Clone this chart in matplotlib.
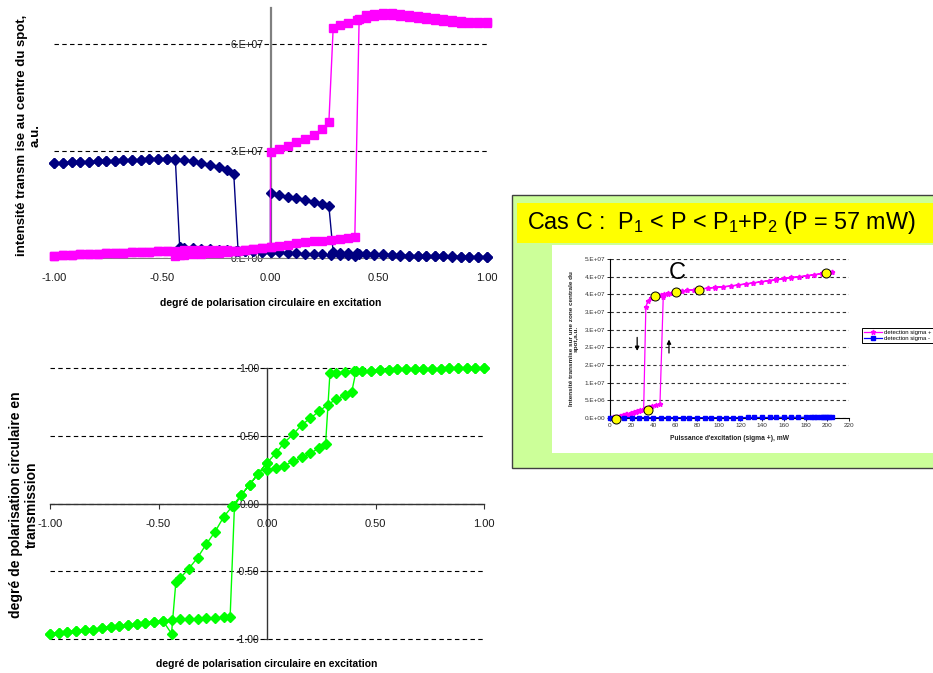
import matplotlib
matplotlib.use('Agg')
import matplotlib.pyplot as plt
from matplotlib.patches import Rectangle

plt.rcParams['font.family'] = ['Liberation Sans', 'DejaVu Sans']
plt.rcParams['mathtext.fontset'] = 'custom'
plt.rcParams['mathtext.rm'] = 'Liberation Sans'
plt.rcParams['mathtext.it'] = 'Liberation Sans:italic'
plt.rcParams['mathtext.bf'] = 'Liberation Sans:bold'

# ---------------- data : left charts (sweep of excitation polarisation) -------------
x_fwd = [-1.00, -0.96, -0.92, -0.88, -0.84, -0.80, -0.76, -0.72, -0.68, -0.64, -0.60,
         -0.56, -0.52, -0.48, -0.44, -0.40, -0.36, -0.32, -0.28, -0.24, -0.20, -0.17,
         -0.15, -0.12, -0.08, -0.04, 0.00, 0.00, 0.04, 0.08, 0.12, 0.16, 0.20, 0.24,
         0.27, 0.29, 0.32, 0.36, 0.40, 0.44, 0.48, 0.52, 0.56, 0.60, 0.64, 0.68, 0.72,
         0.76, 0.80, 0.84, 0.88, 0.92, 0.96, 1.00]
x_bwd = [1.00, 0.96, 0.92, 0.88, 0.84, 0.80, 0.76, 0.72, 0.68, 0.64, 0.60, 0.56, 0.52,
         0.48, 0.44, 0.41, 0.39, 0.36, 0.32, 0.28, 0.24, 0.20, 0.16, 0.12, 0.08, 0.04,
         0.00, -0.04, -0.08, -0.12, -0.16, -0.20, -0.24, -0.28, -0.32, -0.36, -0.40,
         -0.42, -0.44, -0.48, -0.52, -0.56, -0.60, -0.64, -0.68, -0.72, -0.76, -0.80,
         -0.84, -0.88, -0.92, -0.96, -1.00]

# intensity (units of 1e7) detected sigma- (navy) and sigma+ (magenta)
navy_fwd = [2.66, 2.66, 2.67, 2.68, 2.69, 2.70, 2.71, 2.72, 2.73, 2.74, 2.75, 2.76, 2.77,
            2.77, 2.76, 2.74, 2.71, 2.66, 2.60, 2.53, 2.45, 2.36, 0.20, 0.19, 0.18, 0.17,
            0.17, 1.80, 1.76, 1.71, 1.66, 1.61, 1.56, 1.50, 1.45, 0.15, 0.14, 0.13, 0.12,
            0.11, 0.10, 0.09, 0.08, 0.07, 0.06, 0.06, 0.05, 0.05, 0.04, 0.04, 0.03, 0.03,
            0.03, 0.03]
navy_bwd = [0.02, 0.02, 0.03, 0.03, 0.03, 0.04, 0.04, 0.05, 0.05, 0.06, 0.06, 0.07, 0.08,
            0.08, 0.09, 0.09, 0.06, 0.07, 0.08, 0.08, 0.09, 0.10, 0.11, 0.12, 0.13, 0.15,
            0.16, 0.17, 0.18, 0.19, 0.20, 0.21, 0.22, 0.23, 0.24, 0.26, 0.28, 0.30, 2.74,
            2.77, 2.77, 2.76, 2.75, 2.74, 2.73, 2.72, 2.71, 2.70, 2.69, 2.68, 2.67, 2.66,
            2.66]
pink_fwd = [0.06, 0.07, 0.08, 0.09, 0.10, 0.11, 0.12, 0.13, 0.14, 0.15, 0.16, 0.17, 0.18,
            0.19, 0.20, 0.21, 0.22, 0.22, 0.22, 0.21, 0.21, 0.20, 0.20, 0.22, 0.25, 0.28,
            0.31, 2.97, 3.05, 3.14, 3.23, 3.33, 3.45, 3.60, 3.80, 6.45, 6.52, 6.58, 6.65,
            6.72, 6.78, 6.80, 6.80, 6.78, 6.75, 6.72, 6.70, 6.67, 6.63, 6.60, 6.58, 6.57,
            6.57, 6.57]
pink_bwd = [6.60, 6.61, 6.62, 6.64, 6.66, 6.69, 6.72, 6.75, 6.78, 6.80, 6.83, 6.85, 6.86,
            6.84, 6.80, 6.70, 0.57, 0.55, 0.52, 0.50, 0.48, 0.46, 0.43, 0.40, 0.37, 0.34,
            0.31, 0.28, 0.25, 0.22, 0.19, 0.16, 0.14, 0.12, 0.10, 0.09, 0.08, 0.07, 0.04,
            0.19, 0.18, 0.17, 0.16, 0.15, 0.14, 0.13, 0.12, 0.11, 0.10, 0.09, 0.08, 0.07,
            0.06]
# degree of circular polarisation in transmission
pol_fwd = [-0.96, -0.955, -0.95, -0.94, -0.935, -0.93, -0.92, -0.91, -0.905, -0.90, -0.89,
           -0.88, -0.875, -0.865, -0.86, -0.855, -0.85, -0.85, -0.845, -0.845, -0.84, -0.84,
           -0.02, 0.06, 0.14, 0.22, 0.30, 0.25, 0.26, 0.28, 0.31, 0.34, 0.37, 0.41, 0.44,
           0.96, 0.965, 0.97, 0.975, 0.98, 0.98, 0.985, 0.985, 0.99, 0.99, 0.99, 0.995,
           0.995, 0.995, 1.00, 1.00, 1.00, 1.00, 1.00]
pol_bwd = [1.00, 1.00, 1.00, 1.00, 1.00, 0.995, 0.995, 0.995, 0.99, 0.99, 0.99, 0.985,
           0.985, 0.98, 0.98, 0.975, 0.82, 0.80, 0.77, 0.73, 0.68, 0.63, 0.58, 0.51, 0.45,
           0.37, 0.30, 0.22, 0.14, 0.06, -0.02, -0.10, -0.21, -0.30, -0.40, -0.48, -0.55,
           -0.58, -0.96, -0.865, -0.875, -0.88, -0.89, -0.90, -0.905, -0.91, -0.92, -0.93,
           -0.935, -0.94, -0.95, -0.955, -0.96]

top_yticks = [0, 3e7, 6e7]
top_yticklabels = ['0.E+00', '3.E+07', '6.E+07']
x_ticks = [-1.0, -0.5, 0.0, 0.5, 1.0]
x_ticklabels = ['-1.00', '-0.50', '0.00', '0.50', '1.00']
bot_yticks = [-1.0, -0.5, 0.0, 0.5, 1.0]
bot_yticklabels = ['-1.00', '-0.50', '0.00', '0.50', '1.00']

# ---------------- data : inset (power sweep, case C) ----------------
pink_up_x = [3, 6, 9, 12, 15, 18, 21, 24, 27, 30, 33, 36, 39, 42, 46, 49, 53, 57, 61, 66,
             71, 77, 83, 90, 97, 104, 111, 118, 125, 132, 139, 146, 153, 160, 167, 174,
             181, 188, 195, 200, 204]
pink_up_y = [0.2, 0.4, 0.6, 0.8, 1.0, 1.2, 1.5, 1.8, 2.1, 2.4, 2.7, 3.0, 3.3, 3.6, 4.0,
             34.2, 35.0, 35.4, 35.7, 35.9, 36.1, 36.3, 36.5, 36.7, 36.9, 37.1, 37.3, 37.6,
             37.9, 38.2, 38.5, 38.8, 39.1, 39.4, 39.7, 39.9, 40.2, 40.5, 40.8, 41.0, 41.3]
pink_down_x = [204, 200, 195, 188, 181, 174, 167, 160, 153, 146, 139, 132, 125, 118, 111,
               104, 97, 90, 83, 77, 71, 66, 61, 57, 53, 50, 47, 44, 41, 38, 35, 33, 31, 28,
               25, 22, 19, 16, 13, 10, 7, 4, 1]
pink_down_y = [41.4, 41.1, 40.9, 40.6, 40.3, 40.0, 39.8, 39.5, 39.2, 38.9, 38.6, 38.3,
               38.0, 37.7, 37.4, 37.2, 37.0, 36.8, 36.5, 36.3, 36.1, 35.9, 35.7, 35.5,
               35.3, 35.1, 34.9, 34.7, 34.5, 34.1, 33.2, 31.4, 2.5, 2.2, 1.9, 1.6, 1.3,
               1.0, 0.8, 0.6, 0.4, 0.2, 0.1]
blue_x = [0, 7, 13, 20, 27, 33, 40, 47, 53, 60, 67, 73, 80, 87, 93, 100, 107, 113, 120,
          127, 133, 140, 147, 153, 160, 167, 173, 180, 185, 188, 191, 194, 196, 198, 200,
          202, 204]
blue_y = [0.1, 0.1, 0.1, 0.1, 0.1, 0.1, 0.1, 0.1, 0.1, 0.1, 0.1, 0.1, 0.1, 0.1, 0.1, 0.1,
          0.1, 0.1, 0.1, 0.15, 0.15, 0.15, 0.15, 0.2, 0.2, 0.2, 0.2, 0.2, 0.2, 0.25, 0.25,
          0.25, 0.25, 0.25, 0.3, 0.3, 0.3]
circle_x = [5.5, 35, 41, 61, 82, 199]
circle_y = [-0.3, 2.4, 34.5, 35.7, 36.3, 40.9]
inset_yticks = [0, 5e6, 10e6, 15e6, 20e6, 25e6, 30e6, 35e6, 40e6, 45e6]
inset_yticklabels = ['0.E+00', '5.E+06', '1.E+07', '2.E+07', '2.E+07', '3.E+07',
                     '3.E+07', '4.E+07', '4.E+07', '5.E+07']
inset_xticks = [0, 20, 40, 60, 80, 100, 120, 140, 160, 180, 200, 220]
legend_labels = ['detection sigma +', 'detection sigma -']

# ---------------- figure ----------------
W, H = 933, 673
fig = plt.figure(figsize=(W / 100, H / 100), dpi=100, facecolor='white')


def box(x0, y0, x1, y1):
    return [x0 / W, 1 - y1 / H, (x1 - x0) / W, (y1 - y0) / H]


tick_col = '#1a1a1a'

# ---- top-left chart ----
ax1 = fig.add_axes(box(54.3, 8, 486.7, 257.7))
ax1.set_facecolor('none')
ax1.set_xlim(-1, 1)
ax1.set_ylim(0, 7e7)
ax1.plot(x_fwd + x_bwd, [v * 1e7 for v in navy_fwd + navy_bwd], color='#000080', lw=1,
         marker='D', ms=5.3, mfc='#000080', mec='#000080', clip_on=False, zorder=3)
ax1.plot(x_fwd + x_bwd, [v * 1e7 for v in pink_fwd + pink_bwd], color='#FF00FF', lw=1,
         marker='s', ms=6, mfc='#FF00FF', mec='#FF00FF', clip_on=False, zorder=4)
for s in ['top', 'right']:
    ax1.spines[s].set_visible(False)
ax1.spines['left'].set_position(('data', 0))
ax1.spines['left'].set_color('#808080')
ax1.spines['left'].set_linewidth(1.6)
ax1.spines['bottom'].set_color('#808080')
ax1.set_yticks(top_yticks)
ax1.set_yticklabels(top_yticklabels)
ax1.set_xticks(x_ticks)
ax1.set_xticklabels(x_ticklabels)
ax1.tick_params(axis='y', length=0, pad=5, labelsize=7.5, labelcolor=tick_col)
ax1.tick_params(axis='x', length=0, pad=11, labelsize=8, labelcolor=tick_col)
ax1.grid(axis='y', color='black', lw=0.8, linestyle=(0, (4, 3)))
ax1.set_xlabel('degré de polarisation circulaire en excitation', fontsize=7.5,
               fontweight='bold')
ax1.xaxis.set_label_coords(0.5, -0.16)
ax1.set_ylabel('intensité transm ise au centre du spot,\na.u.', fontsize=9.5,
               fontweight='bold', linespacing=1.15)
ax1.yaxis.set_label_coords(-0.03, 0.49)

# ---- bottom-left chart ----
ax2 = fig.add_axes(box(50, 368, 484, 639))
ax2.set_facecolor('none')
ax2.set_xlim(-1, 1)
ax2.set_ylim(-1, 1)
ax2.plot(x_fwd + x_bwd, pol_fwd + pol_bwd, color='#00FF00', lw=1, marker='D', ms=5.5,
         mfc='#00FF00', mec='#00FF00', clip_on=False, zorder=3)
for s in ['top', 'right']:
    ax2.spines[s].set_visible(False)
ax2.spines['left'].set_position(('data', 0))
ax2.spines['bottom'].set_position(('data', 0))
for s in ['left', 'bottom']:
    ax2.spines[s].set_color('#333333')
    ax2.spines[s].set_linewidth(1)
ax2.set_yticks(bot_yticks)
ax2.set_yticklabels(bot_yticklabels)
ax2.set_xticks(x_ticks)
ax2.set_xticklabels(x_ticklabels)
ax2.tick_params(axis='y', length=2.5, pad=3, labelsize=7.5, labelcolor=tick_col,
                color='#333333')
ax2.tick_params(axis='x', length=3.5, pad=7.5, labelsize=8, labelcolor=tick_col,
                color='#333333')
ax2.grid(axis='y', color='black', lw=0.8, linestyle=(0, (4, 3)))
for gl in ax2.get_ygridlines():
    gl.set_clip_on(False)
ax2.set_xlabel('degré de polarisation circulaire en excitation', fontsize=7.5,
               fontweight='bold')
ax2.xaxis.set_label_coords(0.5, -0.075)
ax2.set_ylabel('degré de polarisation circulaire en\ntransmission', fontsize=10,
               fontweight='bold', linespacing=1.2)
ax2.yaxis.set_label_coords(-0.026, 0.494)

# ---- right panel background ----
fig.add_artist(Rectangle((512 / W, 1 - 468 / H), (945 - 512) / W, (468 - 195) / H,
                         transform=fig.transFigure, facecolor='#CCFF99',
                         edgecolor='#404040', lw=1, zorder=-10))
fig.add_artist(Rectangle((517 / W, 1 - 243 / H), (945 - 517) / W, 40 / H,
                         transform=fig.transFigure, facecolor='#FFFF00',
                         edgecolor='none', zorder=-9))
fig.add_artist(Rectangle((552 / W, 1 - 453 / H), (945 - 552) / W, (453 - 245) / H,
                         transform=fig.transFigure, facecolor='white',
                         edgecolor='none', zorder=-9))
fig.text(527 / W, 1 - 223 / H, r'Cas C :  P$_1$ < P < P$_1$+P$_2$ (P = 57 mW)',
         fontsize=16.8, ha='left', va='center')

# ---- inset chart ----
ax3 = fig.add_axes(box(610, 259, 849, 418))
ax3.set_facecolor('none')
ax3.set_xlim(0, 220)
ax3.set_ylim(0, 4.5e7)
ax3.plot(pink_up_x + pink_down_x, [v * 1e6 for v in pink_up_y + pink_down_y],
         color='#FF00FF', lw=0.9, marker='*', ms=3.5, mfc='#FF00FF', mec='#FF00FF',
         label=legend_labels[0], zorder=3)
ax3.plot(blue_x, [v * 1e6 for v in blue_y], color='#0000FF', lw=0.9, marker='s', ms=2.6,
         mfc='#0000FF', mec='#0000FF', label=legend_labels[1], zorder=3, clip_on=False)
ax3.plot(circle_x, [v * 1e6 for v in circle_y], linestyle='none', marker='o', ms=6.5,
         mfc='#FFFF00', mec='black', mew=0.7, zorder=5, clip_on=False)
for s in ['top', 'right']:
    ax3.spines[s].set_visible(False)
for s in ['left', 'bottom']:
    ax3.spines[s].set_color('black')
    ax3.spines[s].set_linewidth(0.8)
ax3.set_yticks(inset_yticks)
ax3.set_yticklabels(inset_yticklabels)
ax3.set_xticks(inset_xticks)
ax3.tick_params(axis='both', length=2, width=0.6, pad=1.5, labelsize=4.6,
                labelcolor='#333333')
ax3.grid(axis='y', color='#333333', lw=0.8, linestyle=(0, (3, 2.5)))
ax3.set_xlabel("Puissance d'excitation (sigma +), mW", fontsize=4.8, fontweight='bold',
               color='#222222')
ax3.xaxis.set_label_coords(0.5, -0.11)
ax3.set_ylabel('Intensité transmise sur une zone centrale du\nspot,a.u.', fontsize=4.6,
               fontweight='bold', color='#222222', linespacing=1.1)
ax3.yaxis.set_label_coords(-0.13, 0.5)
ax3.text(62, 41.0e6, 'C', fontsize=17, ha='center', va='center')
ax3.annotate('', xy=(25, 18.2e6), xytext=(25, 23.6e6),
             arrowprops=dict(arrowstyle='-|>', color='black', lw=0.9, mutation_scale=6))
ax3.annotate('', xy=(54.3, 23.0e6), xytext=(54.3, 17.6e6),
             arrowprops=dict(arrowstyle='-|>', color='black', lw=0.9, mutation_scale=6))
leg = ax3.legend(loc='upper left', bbox_to_anchor=(862 / W, 1 - 328 / H),
                 bbox_transform=fig.transFigure, fontsize=4.3, frameon=True,
                 fancybox=False, edgecolor='black', framealpha=1, borderpad=0.3,
                 handlelength=3, labelspacing=0.15, handletextpad=0.3,
                 borderaxespad=0)
leg.get_frame().set_linewidth(0.7)

fig.savefig('out.png', dpi=100, facecolor='white')
